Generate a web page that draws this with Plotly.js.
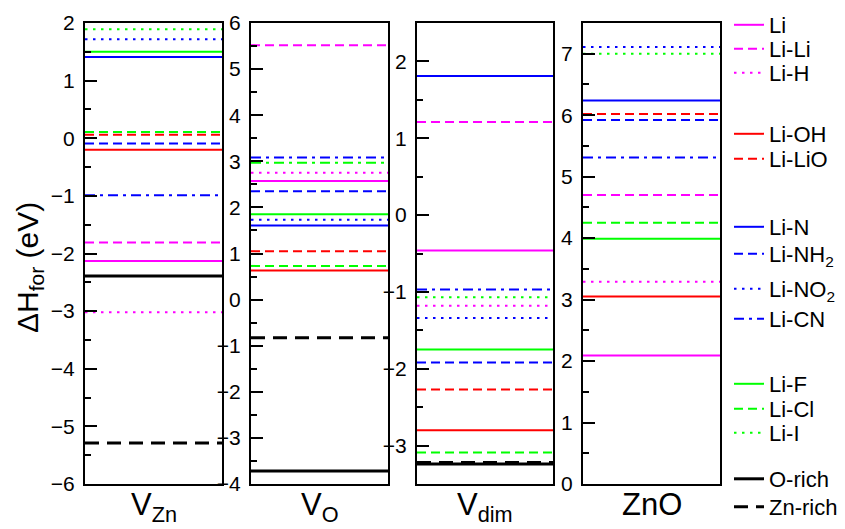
<!DOCTYPE html>
<html>
<head>
<meta charset="utf-8">
<script src="https://cdn.plot.ly/plotly-3.0.1.min.js"></script>
<style>html,body{margin:0;padding:0;background:#fff}#chart{width:845px;height:529px}</style>
</head>
<body>
<div id="chart"></div>
<script>
// ---- data ----
const panels = ['V<sub>Zn</sub>', 'V<sub>O</sub>', 'V<sub>dim</sub>', 'ZnO'];
const species = ['Li', 'Li-Li', 'Li-H', 'Li-OH', 'Li-LiO', 'Li-N', 'Li-NH<sub>2</sub>', 'Li-NO<sub>2</sub>', 'Li-CN', 'Li-F', 'Li-Cl', 'Li-I'];
const valVZn  = [-2.13, -1.81, -3.02, -0.20, 0.06, 1.41, -0.09, 1.72, -0.99, 1.50, 0.11, 1.89];
const valVO   = [2.57, 5.52, 2.75, 0.63, 1.05, 1.61, 2.35, 1.73, 3.08, 1.85, 0.73, 2.97];
const valVdim = [-0.46, 1.21, -1.18, -2.80, -2.27, 1.81, -1.92, -1.34, -0.97, -1.75, -3.09, -1.07];
const valZnO  = [2.09, 4.70, 3.29, 3.05, 6.02, 6.24, 5.92, 7.11, 5.31, 3.99, 4.25, 7.00];
const limitNames = ['O-rich', 'Zn-rich'];
const oRich  = [-2.39, -3.72, -3.24];   // V_Zn, V_O, V_dim
const znRich = [-5.29, -0.83, -3.22];
const yRanges = [[-6, 2], [-4, 6], [-3.5, 2.5], [0, 7.5]];

// ---- styles ----
const colors = ['#ff00ff','#ff00ff','#ff00ff','#ff0000','#ff0000','#0000ff','#0000ff','#0000ff','#0000ff','#00ff00','#00ff00','#00ff00'];
const DASH = '9px,5px', DOT = '2.5px,5.5px', DASHDOT = '10px,5px,3px,5px';
const dashes = ['solid', DASH, DOT, 'solid', DASH, 'solid', DASH, DOT, DASHDOT, 'solid', DASH, DOT];
// legend entry vertical centres (px from top)
const legendY = [25, 49, 73, 134, 159, 227, 254, 289, 319, 384, 409, 433, 479, 507];

const allVals = [valVZn, valVO, valVdim, valZnO];
const traces = [];
const axSuffix = ['', '2', '3', '4'];
const legKey = n => n === 0 ? 'legend' : 'legend' + (n + 1);

species.forEach((name, i) => {
  allVals.forEach((vals, p) => {
    let dash = dashes[i];
    if (p === 1 && name === 'Li-I') dash = DASHDOT;
    traces.push({
      x: [0, 1], y: [vals[i], vals[i]],
      mode: 'lines', type: 'scatter',
      line: {color: colors[i], width: 2, dash: dash},
      name: name, legendgroup: name, showlegend: p === 0,
      legend: legKey(i),
      xaxis: 'x' + axSuffix[p], yaxis: 'y' + axSuffix[p],
      hoverinfo: 'skip'
    });
  });
});
[oRich, znRich].forEach((arr, k) => {
  arr.forEach((v, p) => {
    traces.push({
      x: [0, 1], y: [v, v], mode: 'lines', type: 'scatter',
      line: {color: '#000', width: 3, dash: k === 0 ? 'solid' : '14px,8px'},
      name: limitNames[k], legendgroup: limitNames[k], showlegend: p === 0,
      legend: legKey(12 + k),
      xaxis: 'x' + axSuffix[p], yaxis: 'y' + axSuffix[p],
      hoverinfo: 'skip'
    });
  });
});

// ---- layout ----
const W = 845, H = 529;
const px = [[85, 222], [251, 388], [417, 553], [583, 720]];
const yTop = 23, yBot = 484;
const yDom = [(H - yBot) / H, (H - yTop) / H];
const font = 'Liberation Sans, Arial, Helvetica, sans-serif';

const layout = {
  width: W, height: H,
  margin: {l: 0, r: 0, t: 0, b: 0},
  paper_bgcolor: '#fff', plot_bgcolor: '#fff',
  font: {family: font, color: '#000', size: 20},
  annotations: [],
};
px.forEach((d, p) => {
  const s = axSuffix[p];
  layout['xaxis' + s] = {
    domain: [d[0] / W, d[1] / W], range: [0, 1], anchor: 'y' + s,
    showline: true, mirror: true, linecolor: '#000', linewidth: 2,
    showticklabels: false, ticks: '', showgrid: false, zeroline: false, fixedrange: true
  };
  layout['yaxis' + s] = {
    domain: yDom, range: yRanges[p], anchor: 'x' + s,
    showline: true, mirror: true, linecolor: '#000', linewidth: 2,
    ticks: 'inside', ticklen: 12, tickwidth: 2, tickcolor: '#000', dtick: 1, tick0: 0,
    minor: {ticks: 'inside', ticklen: 6, tickwidth: 2, tickcolor: '#000', dtick: 0.5, tick0: 0},
    tickfont: {size: 21, family: font}, ticklabelstandoff: 4,
    showgrid: false, zeroline: false, automargin: false, fixedrange: true
  };
  layout.annotations.push({
    xref: 'paper', yref: 'paper', x: (d[0] + d[1]) / 2 / W, y: (H - 485) / H,
    xanchor: 'center', yanchor: 'top', showarrow: false,
    text: panels[p], font: {size: 31, family: font}
  });
});
layout.annotations.push({
  xref: 'paper', yref: 'paper', x: 29 / W, y: (H - 268) / H,
  xanchor: 'center', yanchor: 'middle', showarrow: false, textangle: -90,
  text: '\u0394H<sub>for</sub> (eV)', font: {size: 30, family: font}
});

legendY.forEach((yc, n) => {
  layout[legKey(n)] = {
    x: 729 / W, xanchor: 'left', y: (H - yc) / H, yanchor: 'middle',
    bgcolor: 'rgba(0,0,0,0)', borderwidth: 0, font: {size: 22, family: font}
  };
});

Plotly.newPlot('chart', traces, layout, {displayModeBar: false, staticPlot: true});
</script>
</body>
</html>
